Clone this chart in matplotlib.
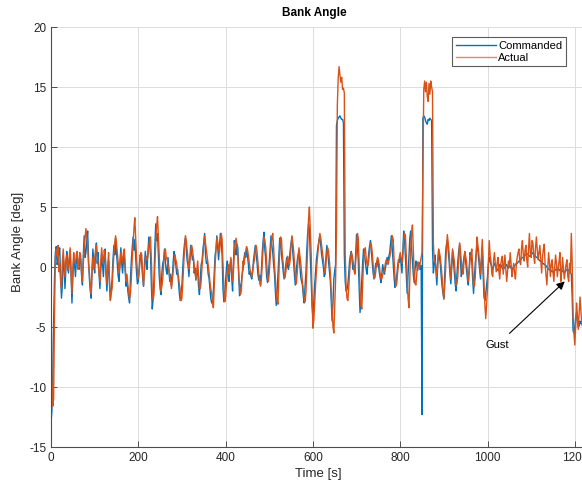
import numpy as np
import matplotlib
matplotlib.use("Agg")
import matplotlib.pyplot as plt
from matplotlib.lines import Line2D

plt.rcParams['font.family'] = ['Liberation Sans', 'DejaVu Sans']
plt.rcParams['axes.unicode_minus'] = False

# Sample spacing of the logged bank angle [s]
dt = 2.0

commanded = [
    -13.0, -12.0, -9.5, -4.5, -1.0, 1.2, 1.7, 0.2, 0.5, 1.4, 1.6, -0.8, -2.6, -1.5, 0.8, 0.1, -1.8, -0.2, 1.3, 0.6,
    -0.5, 0.5, 1.4, -0.6, -3.0, -0.9, 0.8, 0.2, -0.8, 0.4, 1.0, 0.1, -0.2, 0.9, 0.6, -0.7, -1.5, 1.0, 2.6, 0.8,
    1.2, 2.2, 3.0, 0.6, -1.0, -2.0, -2.6, -0.2, 1.5, 0.4, -0.5, 1.1, 2.0, 0.3, 1.2, -0.5, -1.8, -0.3, 1.0, 0.2,
    -0.8, 0.6, 1.5, -0.6, -2.0, -0.4, 0.5, -1.5, -2.7, -1.9, -1.0, 0.6, 1.8, 1.0, 2.4, 1.2, 0.2, -0.8, -1.2, 0.4,
    1.6, 0.3, -0.5, 0.6, 1.0, -0.4, -1.6, -0.9, -2.0, -2.6, -3.0, -1.0, 0.5, 1.6, 2.5, 1.4, 2.3, 0.8, -0.5, -1.4,
    -1.2, -0.2, 1.0, 0.9, 0.2, -0.9, -1.6, 0.1, 1.3, 0.4, -0.2, 1.2, 2.5, 1.8, 1.0, -1.6, -3.5, -2.6, -1.0, 1.8,
    3.6, 2.2, 2.8, 1.0, -0.8, -1.8, -2.3, -0.5, 0.3, 0.6, 1.5, 0.4, -0.3, -0.6, 0.8, -0.2, -1.2, -0.6, -1.6, -0.8,
    0.5, 1.3, 0.9, 0.1, -0.6, -0.2, -1.2, -2.2, -2.8, -2.0, -1.5, 0.0, 1.2, 2.0, 2.4, 1.5, 0.5, 0.1, -0.8, 0.6,
    1.8, 1.2, 0.6, 0.9, -0.5, -0.1, -1.1, -0.4, -0.3, -1.6, -2.3, -1.0, 0.2, 0.5, 1.4, 2.1, 2.8, 1.0, 0.3, 0.4,
    -0.6, -0.9, -1.8, -2.6, -3.0, -2.9, -2.0, -0.4, 1.0, 1.5, 2.6, 1.6, 0.6, 1.8, 2.8, 2.2, 1.0, -1.8, -2.9, -2.2,
    -1.2, -0.1, 0.5, -0.8, -1.2, 0.2, 0.6, -0.9, -2.0, 0.4, 2.2, 1.4, 1.0, 1.9, 1.6, -0.8, -2.4, -1.6, -1.3, -0.6,
    -0.2, 0.7, 1.2, 0.8, 1.5, 1.0, 0.3, -0.6, -0.4, -0.8, -1.0, -0.3, 0.6, 1.2, 1.8, 1.0, 0.4, -0.6, -1.1, -0.7,
    -1.5, -0.3, 1.2, 2.2, 2.9, 1.4, 0.6, -0.8, -1.3, -0.6, 0.4, 1.5, 2.6, 1.8, 1.2, 0.2, -0.6, -2.0, -3.2, -2.0,
    -0.6, 1.0, 2.4, 1.8, 1.0, 0.4, -0.4, -1.0, -0.6, 0.2, 0.8, 0.1, -0.2, 0.7, 1.4, 2.0, 2.5, 1.2, 0.3, -0.8,
    -1.5, -0.3, 0.5, 1.0, 1.4, 0.2, -0.8, -1.2, -1.5, -2.4, -3.0, -1.6, -0.5, 1.4, 2.8, 3.6, 3.2, 0.8, -1.0, -3.2,
    -4.2, -3.0, -1.5, -0.4, 0.6, 1.2, 1.8, 2.2, 2.6, 1.8, 1.0, 0.5, 0.0, -0.8, -0.6, 0.9, 1.8, 1.2, 0.4, -0.3,
    -1.2, -2.8, -4.5, -3.0, -1.0, -0.3, 0.2, 11.8, 12.2, 12.4, 12.5, 12.6, 12.4, 12.3, 12.3, 12.0, 1.0, -1.2, -2.0, -1.9,
    -1.5, -0.6, 0.5, 1.0, 1.3, 0.4, -0.2, 0.1, -0.5, 1.2, 2.7, 1.8, 0.5, -1.8, -3.8, -2.6, -1.0, 0.4, 1.5, 1.0,
    0.5, -0.2, -0.6, 0.4, 1.2, 1.8, 2.2, 1.2, 0.4, -0.5, -1.0, -0.3, 0.3, 0.0, 0.6, 0.2, -0.4, -0.9, -1.3, -0.5,
    0.2, -0.3, -0.6, -0.1, 0.3, 0.8, 0.5, 0.9, 1.2, 2.0, 2.6, 1.4, 0.3, -0.9, -1.7, -1.4, -0.8, 0.0, 0.6, 0.4,
    1.0, 0.2, -0.5, 1.2, 3.0, 2.2, 0.8, -0.8, -2.2, -0.6, 1.2, 2.4, 3.0, 1.6, 0.5, -0.6, -1.3, -0.2, 0.5, 0.2,
    -0.3, 0.4, 0.3, -0.2, 0.1, -12.3, 12.4, 12.6, 12.5, 12.2, 12.0, 11.9, 12.3, 12.2, 12.4, 12.3, 12.2, 1.5, -0.5, 0.2,
    1.0, -0.4, -1.5, 0.2, 1.3, 0.8, 0.2, -0.8, -1.6, -2.2, -2.6, -0.6, 1.2, 1.9, 2.2, 1.4, 0.5, -0.6, -1.4, 0.0,
    1.3, 0.5, -0.5, -1.4, -2.0, -0.6, 0.5, 1.3, 1.8, 0.6, -0.8, -0.2, 0.2, 0.8, 1.2, 0.4, -0.3, -1.0, -1.5, -0.2,
    1.2, 0.9, 0.5, -1.0, -2.2, -1.0, 0.3, 1.2, 2.0, 1.3, 0.5, -0.3, -1.0, 0.4, 1.6, -0.6, -2.5, -2.8, -2.2, -1.5,
    -0.8, 0.2, 0.8, 0.5, 0.2, 0.0, -0.2, 0.1, 0.3, 0.1, 0.0, -0.2, -0.3, -0.1, 0.2, 0.2, 0.1, -0.1, -0.2, -0.1,
    0.0, 0.1, 0.2, 0.0, -0.1, 0.0, 0.1, -0.1, -0.2, -0.1, 0.0, 0.1, 0.2, 0.3, 0.3, 0.4, 0.5, 0.5, 0.6, 0.7,
    0.8, 0.8, 0.9, 1.0, 1.0, 1.1, 1.1, 1.0, 0.9, 0.9, 1.0, 1.1, 1.2, 1.1, 1.0, 0.9, 0.8, 0.8, 0.7, 0.6,
    0.5, 0.5, 0.4, 0.3, 0.3, 0.2, 0.2, 0.1, 0.0, -0.1, -0.2, -0.2, -0.3, -0.3, -0.4, -0.4, -0.3, -0.3, -0.2, -0.2,
    -0.3, -0.2, -0.2, -0.3, -0.4, -0.4, -0.3, -0.4, -0.5, -0.4, -0.3, -0.2, -0.2, -0.3, -0.4, -0.5, -0.6, -2.5, -5.3, -5.5,
    -5.0, -4.2, -3.8, -4.6, -5.0, -4.9, -4.5, -4.7, -4.8,
]

actual = [
    -3.0, -9.0, -11.6, -11.0, -4.0, 0.8, 1.5, 0.9, 1.8, -0.4, 0.3, -1.2, -1.8, 0.4, 1.5, 0.2, -0.8, 0.6, 1.0, -0.3,
    0.2, 0.9, 1.6, -0.6, -2.2, -0.2, 1.2, 0.4, 0.3, 1.0, 1.3, -0.2, 0.4, 1.2, 1.0, -0.4, -1.2, 0.3, 1.5, 2.4,
    3.2, 2.5, 1.8, 0.2, -0.5, -1.6, -2.2, -0.5, 0.8, -0.2, 0.6, 1.4, 1.8, 0.9, 0.2, -0.4, -1.2, 0.4, 1.6, 0.8,
    0.3, 1.4, 1.0, -0.3, -1.4, 0.2, 1.2, -1.0, -2.8, -2.2, -1.8, -0.2, 1.0, 2.0, 2.6, 2.0, 1.2, 0.3, -0.5, 0.1,
    1.2, 0.8, 0.4, 1.2, 1.5, 0.2, -1.2, -0.6, -1.5, -2.0, -2.7, -2.2, -1.0, 0.6, 1.8, 3.2, 4.1, 2.4, 0.8, -0.4,
    -1.0, -0.3, 0.5, 1.2, 1.0, -0.6, -1.5, -0.4, 0.6, 0.9, 0.6, 0.9, 1.8, 2.2, 2.5, 0.5, -2.0, -2.8, -2.2, 0.2,
    2.0, 3.4, 4.2, 2.5, 1.0, -0.8, -2.0, -1.6, -1.0, 0.2, 1.2, 1.5, 0.8, 0.6, 0.2, -0.2, -0.8, -1.2, -1.8, -1.0,
    -0.3, 0.4, 1.0, 0.6, 0.3, -0.4, -0.8, -1.4, -2.0, -2.8, -2.6, -1.2, 0.2, 1.6, 2.6, 2.2, 1.4, 0.6, -0.2, 0.5,
    1.2, 1.8, 1.5, 0.8, 0.2, -0.5, -1.0, -0.2, 0.5, -0.6, -1.8, -1.8, -1.2, 0.0, 1.0, 1.9, 2.6, 2.0, 1.4, 0.8,
    0.2, -0.4, -1.2, -1.8, -2.2, -2.9, -3.4, -1.6, 0.2, 1.4, 2.4, 2.1, 1.6, 1.2, 2.0, 2.8, 2.3, 0.2, -1.8, -2.9,
    -2.5, -1.4, -0.4, 0.2, -0.6, -0.2, 0.8, 0.0, -1.2, -0.4, 1.2, 2.0, 2.4, 1.8, 1.0, -0.4, -1.6, -2.3, -2.0, -0.6,
    0.5, 0.2, 0.8, 1.3, 1.7, 1.5, 1.0, 0.4, -0.2, -0.5, -0.8, -0.4, 0.2, 0.6, 1.4, 1.8, 1.3, 0.4, -0.5, -1.2,
    -1.6, -1.0, 0.3, 1.6, 2.5, 2.2, 1.6, 0.4, -0.8, -1.2, -0.5, 0.6, 1.8, 2.4, 2.8, 1.6, 0.2, -1.0, -2.2, -2.8,
    -3.1, -0.8, 1.6, 2.5, 2.3, 1.0, 0.2, -0.5, -0.9, -0.4, 0.4, 0.9, 0.6, 0.1, 0.6, 1.8, 2.6, 2.0, 1.3, 0.2,
    -0.8, -1.4, -0.5, 0.6, 1.6, 1.0, 0.4, -0.4, -1.2, -2.0, -2.6, -2.9, -2.2, -0.4, 1.6, 4.0, 5.0, 3.2, 1.2, -2.2,
    -5.1, -4.5, -3.0, -1.6, -0.4, 0.6, 1.4, 2.2, 2.8, 2.4, 1.8, 1.2, 0.6, -0.1, -0.5, 0.4, 1.2, 1.6, 1.3, 0.4,
    -0.5, -2.0, -3.6, -5.0, -5.5, -3.2, -1.0, 3.0, 13.5, 15.8, 16.7, 16.0, 15.4, 15.8, 14.8, 14.9, 14.5, 1.0, -1.5, -2.6,
    -2.8, -1.8, -0.5, 0.6, 1.2, 1.0, 0.5, -0.2, -0.6, 0.4, 1.5, 2.8, 2.4, 0.2, -2.0, -3.2, -3.5, -1.4, 0.5, 1.2,
    1.6, 0.8, 0.2, 0.1, 0.6, 1.4, 2.0, 1.8, 1.2, 0.2, -0.8, -0.9, -0.4, 0.4, 0.8, 0.6, 0.2, -0.5, -1.0, -1.0,
    -0.6, -0.5, -0.2, 0.3, 0.6, 0.4, 0.2, 0.5, 0.8, 1.2, 1.8, 2.6, 2.3, 0.6, -0.8, -1.6, -1.4, -0.5, 0.2, 0.8,
    1.2, 0.8, 0.3, 1.0, 2.2, 2.8, 2.6, 0.8, -1.0, -2.6, -3.4, -1.0, 1.5, 2.8, 3.5, 1.5, -0.5, -1.4, -1.5, -0.5,
    0.4, 0.2, -0.2, 0.4, 0.8, 1.2, 8.0, 14.8, 15.5, 14.6, 15.4, 14.2, 13.8, 15.3, 14.4, 15.5, 15.0, 14.6, 2.0, 0.5,
    0.5, 0.0, -0.8, 0.4, 1.5, 1.2, 0.8, 0.0, -0.8, -2.0, -2.7, -1.6, -0.2, 1.6, 2.7, 2.0, 1.2, 0.0, -1.0, 0.4,
    1.5, 1.0, 0.5, -0.6, -1.5, -1.4, -0.8, 0.6, 2.0, 1.4, 0.5, -0.2, -0.6, 0.4, 1.3, 0.9, 0.4, -0.5, -1.2, -0.4,
    0.6, 1.0, 1.5, 0.0, -1.5, -1.6, -0.8, 1.0, 2.5, 1.8, 1.2, 0.2, -0.6, 0.8, 2.3, 0.4, -1.5, -3.2, -4.3, -3.0,
    -1.8, 0.4, 2.2, 1.0, 0.5, -0.6, -0.8, 0.6, 1.2, 0.2, -0.4, 0.3, 0.8, -0.3, -1.0, 0.1, 0.6, 0.9, -0.6, 0.2,
    1.0, -0.2, -1.2, -0.4, 0.5, 0.0, 1.2, 0.3, -0.8, -0.2, 0.3, -0.5, -1.0, 0.2, 0.8, 1.2, 1.5, 0.4, 0.2, 1.6,
    2.2, 1.0, 0.5, 1.4, 1.8, 0.6, 0.0, 1.5, 2.8, 1.2, 0.8, 2.2, 2.0, 0.9, 0.3, 1.6, 2.5, 1.4, 0.6, 1.2,
    1.8, 0.6, -0.5, 0.8, 1.5, 1.9, 0.2, -0.6, -1.5, -0.2, 1.2, 0.4, -0.8, 0.2, 0.6, -0.4, -1.2, 0.0, 1.0, 0.3,
    -0.8, -0.1, 0.5, 1.2, -1.2, -0.4, 0.8, -0.2, -1.0, -0.3, 0.2, 0.6, -0.8, -1.2, 0.3, -0.5, 2.8, 0.4, -4.0, -5.5,
    -6.5, -5.0, -3.0, -4.0, -5.2, -3.8, -2.5, -3.6, -4.8,
]

assert len(commanded) == len(actual)
time = np.arange(len(commanded)) * dt

x_ticks = [0, 200, 400, 600, 800, 1000, 1200]
y_ticks = [-15, -10, -5, 0, 5, 10, 15, 20]

blue = '#0072BD'
orange = '#D95319'
ink = '#262626'

W, H = 582, 483
fig = plt.figure(figsize=(W / 100, H / 100), dpi=100)

# axes: left edge at 51 px, 0.4365 px per second, y from 27 px (20) to 447 px (-15)
x_max = 1250
ax = fig.add_axes([51 / W, (H - 447) / H, x_max * 0.4365 / W, 420 / H])

ax.plot(time, commanded, color=blue, lw=1.0)
ax.plot(time, actual, color=orange, lw=1.0)

ax.set_xlim(0, x_max)
ax.set_ylim(-15, 20)
ax.set_xticks(x_ticks)
ax.set_yticks(y_ticks)
ax.grid(True, color='#dcdcdc', lw=0.7)
ax.set_axisbelow(True)

for side in ('top', 'right'):
    ax.spines[side].set_visible(False)
for side in ('left', 'bottom'):
    ax.spines[side].set_color('#4d4d4d')
    ax.spines[side].set_linewidth(0.8)
ax.tick_params(direction='in', length=4, width=0.7, colors='#4d4d4d',
               labelcolor=ink, labelsize=8.5)

fig.text(314 / W, 1 - 13 / H, 'Bank Angle', ha='center', va='center',
         fontsize=8.5, fontweight='bold', color='black')
fig.text(318 / W, 1 - 474 / H, 'Time [s]', ha='center', va='center',
         fontsize=9.5, color=ink)
fig.text(18 / W, 1 - 242 / H, 'Bank Angle [deg]', ha='center', va='center',
         rotation=90, fontsize=9.5, color=ink)

ax.annotate('Gust', xy=(1177, -1.2), xytext=(1022, -6.5),
            ha='center', va='center', fontsize=8, color='black',
            arrowprops=dict(arrowstyle='-|>', color='black', lw=0.8,
                            mutation_scale=12, shrinkA=4, shrinkB=0))

handles = [Line2D([], [], color=blue, lw=1.0),
           Line2D([], [], color='#E8875A', lw=1.0)]
leg = ax.legend(handles, ['Commanded', 'Actual'], loc='upper right',
                bbox_to_anchor=(566 / W, 1 - 37 / H),
                bbox_transform=fig.transFigure, fontsize=8,
                frameon=True, fancybox=False, handlelength=3.6,
                borderpad=0.35, labelspacing=0.15, handletextpad=0.2,
                borderaxespad=0)
leg.get_frame().set_edgecolor('#333333')
leg.get_frame().set_linewidth(0.8)

fig.savefig('out.png', dpi=100)
